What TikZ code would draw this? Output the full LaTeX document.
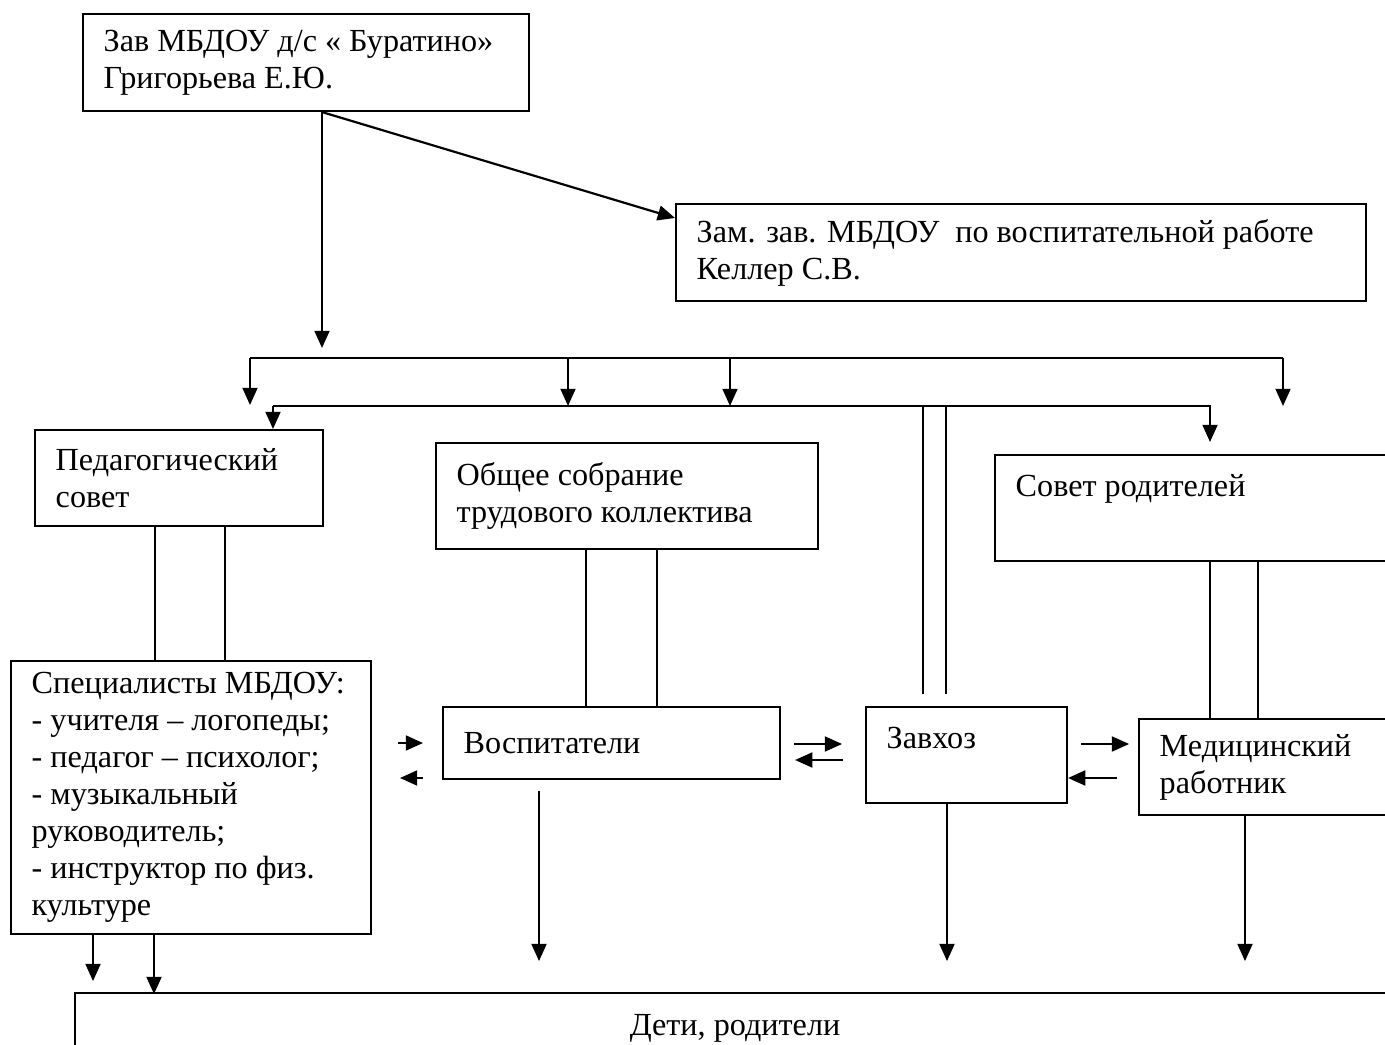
\documentclass[tikz,border=0pt]{standalone}
\usepackage{fontspec}
\setmainfont{Liberation Serif}
\usetikzlibrary{arrows.meta,calc}

\begin{document}
\begin{tikzpicture}[x=0.435pt, y=-0.435pt,
  box/.style n args={2}{draw, line width=0.9pt, rectangle, anchor=north west, minimum width=#1*0.435pt, minimum height=#2*0.435pt, text width=#1*0.435pt-18pt, inner xsep=9pt, inner ysep=0pt, align=flush left, font=\fontsize{14}{16.1}\selectfont},
  ln/.style={line width=0.95pt},
  arr/.style={line width=0.95pt, -{Triangle[length=7.5pt,width=6.5pt]}},
  dbl/.style={line width=0.7pt}]
  \useasboundingbox (0,0) rectangle (1385,1045);
  \clip (0,0) rectangle (1385,1045);

  \node[box={446}{97}] (zav) at (82,13) {Зав МБДОУ д/с « Буратино»\\Григорьева Е.Ю.};
  \node[box={690}{97}] (zam) at (675,203) {Зам. зав. МБДОУ\ \ по воспитательной работе\\Келлер С.В.};
  \node[box={288}{96}] (ped) at (34,429) {Педагогический\\совет};
  \node[box={382}{106}] (obsh) at (435,442) {Общее собрание\\трудового коллектива};
  \node[box={420}{106}, text depth=20pt] (sovet) at (994,454) {Совет родителей};
  \node[box={360}{273}] (spec) at (10,660) {Специалисты МБДОУ:\\- учителя – логопеды;\\- педагог – психолог;\\- музыкальный\\руководитель;\\- инструктор по физ.\\культуре};
  \node[box={337}{72}] (vosp) at (442,706) {Воспитатели};
  \node[box={201}{96}, text depth=15pt] (zavhoz) at (865,706) {Завхоз};
  \node[box={260}{96}] (med) at (1138,718) {Медицинский\\работник};
  \node[box={1320}{70}, align=flush center] (deti) at (74,992) {Дети, родители};

  \coordinate (top) at (322,348);
  \coordinate (bus1) at (250,358);
  \coordinate (bus2) at (273,406);

  \draw[arr] (top |- zav.south) -- (top);
  \draw[arr] (top |- zav.south) -- ($(zam.north west)+(0,15)$);

  \draw[ln] (bus1) -- ++(1033,0);
  \draw[arr] (bus1) -- ++(0,47);
  \foreach \dx in {318,480,1033}
    \draw[arr] ($(bus1)+(\dx,0)$) -- ++(0,48);
  \draw[arr] (bus2) -- (bus2 |- ped.north);
  \draw[arr] (bus2) -- ++(937,0) -- ++(0,36);
  \foreach \dx in {58,81}
    \draw[dbl] ($(zavhoz.north west)+(\dx,-12)$) -- ($(zavhoz.north west)+(\dx,-300)$);

  \foreach \dx in {121,191}
    \draw[dbl] ($(ped.south west)+(\dx,0)$) -- ($(ped.south west)+(\dx,135)$);
  \foreach \dx in {151,222}
    \draw[dbl] ($(obsh.south west)+(\dx,0)$) -- ($(obsh.south west)+(\dx,158)$);
  \foreach \dx in {216,264}
    \draw[dbl] ($(sovet.south west)+(\dx,0)$) -- ($(sovet.south west)+(\dx,158)$);

  \draw[arr] ($(vosp.north west)+(-44,37)$) -- ($(vosp.north west)+(-19,37)$);
  \draw[arr] ($(vosp.north west)+(-19,72)$) -- ($(vosp.north west)+(-42,72)$);
  \draw[arr] ($(vosp.north east)+(13,38)$) -- ($(vosp.north east)+(61,38)$);
  \draw[arr] ($(vosp.north east)+(62,54)$) -- ($(vosp.north east)+(14,54)$);
  \draw[arr] ($(zavhoz.north east)+(13,38)$) -- ($(zavhoz.north east)+(61,38)$);
  \draw[arr] ($(zavhoz.north east)+(49,72)$) -- (zavhoz.north east |- 0,778);

  \draw[arr] ($(vosp.south west)+(97,11)$) -- ($(vosp.south west)+(97,181)$);
  \draw[arr] ($(zavhoz.south west)+(82,0)$) -- ($(zavhoz.south west)+(82,157)$);
  \draw[arr] ($(med.south west)+(107,0)$) -- ($(med.south west)+(107,145)$);
  \draw[arr] ($(spec.south west)+(83,0)$) -- ($(spec.south west)+(83,46)$);
  \draw[arr] ($(spec.south west)+(144,0)$) -- ($(spec.south west)+(144,59)$);
\end{tikzpicture}
\end{document}
